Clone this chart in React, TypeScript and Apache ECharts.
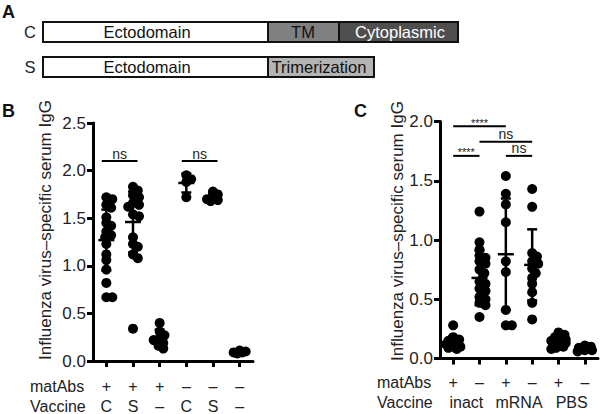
import React, { useEffect, useRef } from 'react';
import * as echarts from 'echarts';

const FONT = '"Liberation Sans", Arial, Helvetica, sans-serif';

// ---------- Panel B data ----------
const matAbsB = ['+', '+', '+', '–', '–', '–'];
const vaccineB = ['C', 'S', '–', 'C', 'S', '–'];
const b1 = [1.72, 1.70, 1.64, 1.61, 1.51, 1.45, 1.42, 1.36, 1.32, 1.30, 1.23, 1.12, 1.06, 0.96, 0.82, 0.67, 0.67];
const b2 = [1.83, 1.79, 1.74, 1.72, 1.66, 1.64, 1.62, 1.54, 1.52, 1.30, 1.23, 1.20, 1.12, 1.08, 0.34];
const b3 = [0.40, 0.31, 0.27, 0.24, 0.22, 0.19, 0.16, 0.13];
const b4 = [1.95, 1.91, 1.88, 1.72];
const b5 = [1.78, 1.75, 1.72, 1.70, 1.68, 1.69];
const b6 = [0.11, 0.10, 0.09, 0.08, 0.09];
const valuesB = [b1, b2, b3, b4, b5, b6];
const meanB = [1.27, 1.46, 0.25, 1.87, 1.72, 0.09];
const sdB = [0.32, 0.32, 0.08, 0.10, 0.04, 0.01];
const sigB = [
  { from: 1, to: 2, y: 2.1, text: 'ns' },
  { from: 4, to: 5, y: 2.1, text: 'ns' },
];
const yTicksB = { min: 0, max: 2.5, interval: 0.5 };

// ---------- Panel C data ----------
const matAbsC = ['+', '–', '+', '–', '+', '–'];
const vaccineC = ['inact', 'mRNA', 'PBS'];
const c1 = [0.28, 0.18, 0.16, 0.15, 0.14, 0.13, 0.12, 0.11, 0.10, 0.09, 0.08, 0.12];
const c2 = [1.24, 0.98, 0.92, 0.87, 0.85, 0.82, 0.80, 0.75, 0.72, 0.65, 0.63, 0.59, 0.57, 0.52, 0.50, 0.47, 0.45, 0.35];
const c3 = [1.54, 1.39, 1.30, 1.15, 0.82, 0.73, 0.41, 0.28, 0.28];
const c4 = [1.43, 1.28, 0.89, 0.86, 0.82, 0.80, 0.76, 0.72, 0.68, 0.63, 0.56, 0.47, 0.33];
const c5 = [0.22, 0.20, 0.18, 0.17, 0.15, 0.14, 0.13, 0.12, 0.11, 0.10, 0.09, 0.08, 0.16, 0.14];
const c6 = [0.11, 0.10, 0.09, 0.08, 0.08, 0.07, 0.07, 0.06];
const valuesC = [c1, c2, c3, c4, c5, c6];
const meanC = [0.13, 0.68, 0.88, 0.79, 0.14, 0.08];
const sdC = [0.06, 0.23, 0.47, 0.30, 0.05, 0.02];
const sigC = [
  { from: 1, to: 3, y: 1.96, text: '****' },
  { from: 2, to: 4, y: 1.83, text: 'ns' },
  { from: 1, to: 2, y: 1.71, text: '****' },
  { from: 3, to: 4, y: 1.71, text: 'ns' },
];
const yTicksC = { min: 0, max: 2, interval: 0.5 };

const yTitle = 'Influenza virus–specific serum IgG';

// layout
const GB = { left: 93, top: 123, width: 160, height: 238 };
const GC = { left: 440, top: 121.5, width: 158, height: 237 };
const DOT = 10;

function swarm(vals: number[], gx: number, pxX: number, pxY: number, d: number, maxOff: number) {
  const placed: [number, number][] = [];
  const out: number[][] = [];
  const order = vals.map((_, i) => i).sort((a, b) => vals[b] - vals[a]);
  for (const i of order) {
    const py = vals[i] * pxY;
    let best = 0, bestScore = -1;
    for (let k = 0; k < 60; k++) {
      const cand = k === 0 ? 0 : (k % 2 ? 1 : -1) * Math.ceil(k / 2) * 1.2;
      if (Math.abs(cand) > maxOff) break;
      const minD = placed.reduce((m, [px, qy]) => Math.min(m, Math.hypot(px - cand, qy - py)), Infinity);
      if (minD >= d) { best = cand; bestScore = Infinity; break; }
      if (minD > bestScore) { bestScore = minD; best = cand; }
    }
    placed.push([best, py]);
    out.push([gx + best / pxX, vals[i]]);
  }
  return out;
}

function errRender(params: any, api: any) {
  const x = api.value(0), m = api.value(1), s = api.value(2);
  const c = api.coord([x, m]);
  const t = api.coord([x, m + s]);
  const b = api.coord([x, m - s]);
  const st = { stroke: '#000', lineWidth: 2.5 };
  return {
    type: 'group',
    children: [
      { type: 'line', shape: { x1: c[0], y1: t[1], x2: c[0], y2: b[1] }, style: st },
      { type: 'line', shape: { x1: c[0] - 5, y1: t[1], x2: c[0] + 5, y2: t[1] }, style: st },
      { type: 'line', shape: { x1: c[0] - 5, y1: b[1], x2: c[0] + 5, y2: b[1] }, style: st },
      { type: 'line', shape: { x1: c[0] - 8, y1: c[1], x2: c[0] + 8, y2: c[1] }, style: st },
    ],
  };
}

function sigRender(list: any[], pad: number) {
  return (params: any, api: any) => {
    const s = list[params.dataIndex];
    const p1 = api.coord([s.from - pad, s.y]);
    const p2 = api.coord([s.to + pad, s.y]);
    const star = s.text.startsWith('*');
    return {
      type: 'group',
      children: [
        { type: 'line', shape: { x1: p1[0], y1: p1[1], x2: p2[0], y2: p2[1] }, style: { stroke: '#000', lineWidth: 2 } },
        {
          type: 'text',
          x: (p1[0] + p2[0]) / 2,
          y: star ? p1[1] - 3.5 : p1[1] - 0.5,
          style: {
            text: s.text, fill: '#222', fontFamily: FONT, fontSize: star ? 11 : 14,
            align: 'center', verticalAlign: star ? 'middle' : 'bottom',
          },
        },
      ],
    };
  };
}

function yAxisOpt(gridIndex: number, t: any) {
  return {
    type: 'value', gridIndex, min: t.min, max: t.max, interval: t.interval,
    axisLine: { show: true, lineStyle: { color: '#000', width: 3 } },
    axisTick: { show: true, length: 6, lineStyle: { color: '#000', width: 3 } },
    axisLabel: { margin: 7, color: '#222', fontSize: 17, fontFamily: FONT, formatter: (v: number) => v.toFixed(1) },
    splitLine: { show: false },
  };
}

export default function App() {
  const ref = useRef<HTMLDivElement>(null);
  useEffect(() => {
    if (!ref.current) return;
    const chart = echarts.init(ref.current, undefined, { renderer: 'svg' });
    const pxXB = GB.width / 6, pxYB = GB.height / (yTicksB.max - yTicksB.min);
    const pxXC = GC.width / 6, pxYC = GC.height / (yTicksC.max - yTicksC.min);

    const scatB = valuesB.flatMap((v, i) => swarm(v, i + 1, pxXB, pxYB, 5.5, 8));
    const scatC = valuesC.flatMap((v, i) => swarm(v, i + 1, pxXC, pxYC, 5.5, 8));

    const labelFont = { color: '#222', fontSize: 16, fontFamily: FONT };
    const catAxisLine = { show: true, lineStyle: { color: '#000', width: 3 } };
    const catTick = { show: true, alignWithLabel: true, length: 6, lineStyle: { color: '#000', width: 3 } };

    const option: any = {
      animation: false,
      grid: [
        { ...GB, outerBoundsMode: 'none' },
        { ...GC, outerBoundsMode: 'none' },
      ],
      xAxis: [
        {
          type: 'category', gridIndex: 0, position: 'bottom', data: matAbsB.map((_, i) => String(i)),
          axisLine: catAxisLine, axisTick: catTick,
          axisLabel: { ...labelFont, margin: 15, lineHeight: 20, interval: 0, formatter: (_: string, i: number) => `${matAbsB[i]}\n${vaccineB[i]}` },
          splitLine: { show: false },
        },
        { type: 'value', gridIndex: 0, min: 0.5, max: 6.5, show: false },
        {
          type: 'category', gridIndex: 1, position: 'bottom', data: matAbsC.map((_, i) => String(i)),
          axisLine: catAxisLine, axisTick: catTick,
          axisLabel: { ...labelFont, margin: 13.5, lineHeight: 20, interval: 0, formatter: (_: string, i: number) => matAbsC[i] },
          splitLine: { show: false },
        },
        {
          type: 'category', gridIndex: 1, position: 'bottom', data: vaccineC,
          axisLine: { show: false }, axisTick: { show: false },
          axisLabel: { ...labelFont, margin: 33.5, lineHeight: 20, interval: 0 },
          splitLine: { show: false },
        },
        { type: 'value', gridIndex: 1, min: 0.5, max: 6.5, show: false },
      ],
      yAxis: [yAxisOpt(0, yTicksB), yAxisOpt(1, yTicksC)],
      series: [
        { type: 'scatter', xAxisIndex: 1, yAxisIndex: 0, data: scatB, symbolSize: DOT, itemStyle: { color: '#000', opacity: 1 } },
        { type: 'custom', xAxisIndex: 1, yAxisIndex: 0, data: meanB.map((m, i) => [i + 1, m, sdB[i]]), renderItem: errRender, z: 3 },
        { type: 'custom', xAxisIndex: 1, yAxisIndex: 0, data: sigB.map((s) => [s.from, s.y, s.to]), renderItem: sigRender(sigB, 0.17), z: 3 },
        { type: 'scatter', xAxisIndex: 4, yAxisIndex: 1, data: scatC, symbolSize: DOT, itemStyle: { color: '#000', opacity: 1 } },
        { type: 'custom', xAxisIndex: 4, yAxisIndex: 1, data: meanC.map((m, i) => [i + 1, m, sdC[i]]), renderItem: errRender, z: 3 },
        { type: 'custom', xAxisIndex: 4, yAxisIndex: 1, data: sigC.map((s) => [s.from, s.y, s.to]), renderItem: sigRender(sigC, 0), z: 3 },
      ],
      graphic: [
        // panel letters
        { type: 'text', x: 2, y: 3, style: { text: 'A', fill: '#111', font: `bold 18px ${FONT}` } },
        { type: 'text', x: 2, y: 102, style: { text: 'B', fill: '#111', font: `bold 18px ${FONT}` } },
        { type: 'text', x: 354, y: 102, style: { text: 'C', fill: '#111', font: `bold 18px ${FONT}` } },
        // panel A construct diagram
        { type: 'text', x: 30, y: 32, style: { text: 'C', fill: '#222', fontSize: 16.5, fontFamily: FONT, align: 'center', verticalAlign: 'middle' } },
        { type: 'text', x: 30, y: 67, style: { text: 'S', fill: '#222', fontSize: 16.5, fontFamily: FONT, align: 'center', verticalAlign: 'middle' } },
        { type: 'rect', shape: { x: 43, y: 22, width: 225, height: 20 }, style: { fill: '#fff', stroke: '#111', lineWidth: 2 } },
        { type: 'rect', shape: { x: 268, y: 22, width: 71, height: 20 }, style: { fill: '#808080', stroke: '#111', lineWidth: 2 } },
        { type: 'rect', shape: { x: 339, y: 22, width: 119, height: 20 }, style: { fill: '#4f4f4f', stroke: '#111', lineWidth: 2 } },
        { type: 'rect', shape: { x: 43, y: 57, width: 225, height: 20 }, style: { fill: '#fff', stroke: '#111', lineWidth: 2 } },
        { type: 'rect', shape: { x: 268, y: 57, width: 106, height: 20 }, style: { fill: '#b4b4b4', stroke: '#111', lineWidth: 2 } },
        { type: 'text', x: 147, y: 32, style: { text: 'Ectodomain', fill: '#111', fontSize: 16.5, fontFamily: FONT, align: 'center', verticalAlign: 'middle' } },
        { type: 'text', x: 303, y: 32, style: { text: 'TM', fill: '#111', fontSize: 16.5, fontFamily: FONT, align: 'center', verticalAlign: 'middle' } },
        { type: 'text', x: 400, y: 32, style: { text: 'Cytoplasmic', fill: '#fff', fontSize: 16.5, fontFamily: FONT, align: 'center', verticalAlign: 'middle' } },
        { type: 'text', x: 147, y: 67, style: { text: 'Ectodomain', fill: '#111', fontSize: 16.5, fontFamily: FONT, align: 'center', verticalAlign: 'middle' } },
        { type: 'text', x: 319, y: 67, style: { text: 'Trimerization', fill: '#111', fontSize: 16.5, fontFamily: FONT, align: 'center', verticalAlign: 'middle' } },
        // axis titles
        { type: 'text', x: 45, y: 230, rotation: Math.PI / 2, style: { text: yTitle, fill: '#222', fontSize: 17, fontFamily: FONT, align: 'center', verticalAlign: 'middle' } },
        { type: 'text', x: 397, y: 231, rotation: Math.PI / 2, style: { text: yTitle, fill: '#222', fontSize: 17, fontFamily: FONT, align: 'center', verticalAlign: 'middle' } },
        // row labels
        { type: 'text', x: 30, y: 386, style: { text: 'matAbs', fill: '#222', fontSize: 16, fontFamily: FONT, verticalAlign: 'middle' } },
        { type: 'text', x: 30, y: 406, style: { text: 'Vaccine', fill: '#222', fontSize: 16, fontFamily: FONT, verticalAlign: 'middle' } },
        { type: 'text', x: 377, y: 382, style: { text: 'matAbs', fill: '#222', fontSize: 16, fontFamily: FONT, verticalAlign: 'middle' } },
        { type: 'text', x: 377, y: 402, style: { text: 'Vaccine', fill: '#222', fontSize: 16, fontFamily: FONT, verticalAlign: 'middle' } },
      ],
    };
    chart.setOption(option);
    return () => chart.dispose();
  }, []);
  return <div ref={ref} style={{ position: 'fixed', left: 0, top: 0, width: 600, height: 414, background: '#fff' }} />;
}
